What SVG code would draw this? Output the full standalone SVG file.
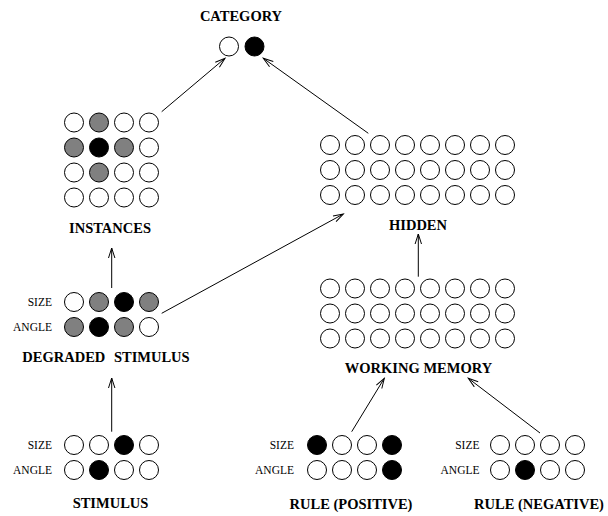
<svg xmlns="http://www.w3.org/2000/svg" width="608" height="516" viewBox="0 0 608 516">
<defs>
<marker id="ah" markerUnits="userSpaceOnUse" markerWidth="14" markerHeight="10" refX="11" refY="4" orient="auto" viewBox="0 0 14 10">
<path d="M1,0.8 L11,4 L1,7.2" fill="none" stroke="#000" stroke-width="1"/>
</marker>
</defs>
<style>
circle{stroke:#000;stroke-width:1;fill:#fff}
.g{fill:#808080}
.b{fill:#000}
.t{font-family:"Liberation Serif","Times New Roman",serif;font-weight:bold;font-size:14.5px;text-anchor:middle;fill:#000}
.s{font-family:"Liberation Serif","Times New Roman",serif;font-size:11.5px;text-anchor:end;fill:#000}
.c{stroke:#000;stroke-width:1;fill:none;marker-end:url(#ah)}
</style>
<rect width="608" height="516" fill="#fff"/>
<g id="connectors">
<line class="c" x1="161.7" y1="111.7" x2="225" y2="58.3"/>
<line class="c" x1="368.3" y1="133.3" x2="263.3" y2="58.3"/>
<line class="c" x1="161.7" y1="313.3" x2="343.3" y2="214"/>
<line class="c" x1="111.7" y1="288" x2="111.7" y2="248"/>
<line class="c" x1="111.7" y1="431.7" x2="111.7" y2="378"/>
<line class="c" x1="418.3" y1="276.7" x2="418.3" y2="234"/>
<line class="c" x1="351.7" y1="431.7" x2="384.3" y2="378.3"/>
<line class="c" x1="540" y1="433" x2="468.3" y2="378.3"/>
</g>
<g id="category">
<text class="t" x="241" y="21">CATEGORY</text>
<circle cx="229" cy="46.5" r="9.5"/>
<circle class="b" cx="254.5" cy="46.5" r="9.5"/>
</g>
<g id="instances">
<circle cx="74" cy="122.5" r="9.5"/><circle class="g" cx="99" cy="122.5" r="9.5"/><circle cx="124" cy="122.5" r="9.5"/><circle cx="149" cy="122.5" r="9.5"/>
<circle class="g" cx="74" cy="147.5" r="9.5"/><circle class="b" cx="99" cy="147.5" r="9.5"/><circle class="g" cx="124" cy="147.5" r="9.5"/><circle cx="149" cy="147.5" r="9.5"/>
<circle cx="74" cy="172.5" r="9.5"/><circle class="g" cx="99" cy="172.5" r="9.5"/><circle cx="124" cy="172.5" r="9.5"/><circle cx="149" cy="172.5" r="9.5"/>
<circle cx="74" cy="197.5" r="9.5"/><circle cx="99" cy="197.5" r="9.5"/><circle cx="124" cy="197.5" r="9.5"/><circle cx="149" cy="197.5" r="9.5"/>
<text class="t" x="110" y="233">INSTANCES</text>
</g>
<g id="hidden">
<circle cx="330" cy="145" r="9.5"/><circle cx="355" cy="145" r="9.5"/><circle cx="380" cy="145" r="9.5"/><circle cx="405" cy="145" r="9.5"/><circle cx="430" cy="145" r="9.5"/><circle cx="455" cy="145" r="9.5"/><circle cx="480" cy="145" r="9.5"/><circle cx="505" cy="145" r="9.5"/>
<circle cx="330" cy="170" r="9.5"/><circle cx="355" cy="170" r="9.5"/><circle cx="380" cy="170" r="9.5"/><circle cx="405" cy="170" r="9.5"/><circle cx="430" cy="170" r="9.5"/><circle cx="455" cy="170" r="9.5"/><circle cx="480" cy="170" r="9.5"/><circle cx="505" cy="170" r="9.5"/>
<circle cx="330" cy="195" r="9.5"/><circle cx="355" cy="195" r="9.5"/><circle cx="380" cy="195" r="9.5"/><circle cx="405" cy="195" r="9.5"/><circle cx="430" cy="195" r="9.5"/><circle cx="455" cy="195" r="9.5"/><circle cx="480" cy="195" r="9.5"/><circle cx="505" cy="195" r="9.5"/>
<text class="t" x="418" y="230">HIDDEN</text>
</g>
<g id="degraded-stimulus">
<text class="s" x="52" y="306">SIZE</text>
<text class="s" x="52" y="331">ANGLE</text>
<circle cx="74" cy="302" r="9.5"/><circle class="g" cx="99" cy="302" r="9.5"/><circle class="b" cx="124" cy="302" r="9.5"/><circle class="g" cx="149" cy="302" r="9.5"/>
<circle class="g" cx="74" cy="327" r="9.5"/><circle class="b" cx="99" cy="327" r="9.5"/><circle class="g" cx="124" cy="327" r="9.5"/><circle cx="149" cy="327" r="9.5"/>
<text class="t" x="106" y="362" word-spacing="5">DEGRADED STIMULUS</text>
</g>
<g id="working-memory">
<circle cx="330" cy="288.5" r="9.5"/><circle cx="355" cy="288.5" r="9.5"/><circle cx="380" cy="288.5" r="9.5"/><circle cx="405" cy="288.5" r="9.5"/><circle cx="430" cy="288.5" r="9.5"/><circle cx="455" cy="288.5" r="9.5"/><circle cx="480" cy="288.5" r="9.5"/><circle cx="505" cy="288.5" r="9.5"/>
<circle cx="330" cy="313.5" r="9.5"/><circle cx="355" cy="313.5" r="9.5"/><circle cx="380" cy="313.5" r="9.5"/><circle cx="405" cy="313.5" r="9.5"/><circle cx="430" cy="313.5" r="9.5"/><circle cx="455" cy="313.5" r="9.5"/><circle cx="480" cy="313.5" r="9.5"/><circle cx="505" cy="313.5" r="9.5"/>
<circle cx="330" cy="338.5" r="9.5"/><circle cx="355" cy="338.5" r="9.5"/><circle cx="380" cy="338.5" r="9.5"/><circle cx="405" cy="338.5" r="9.5"/><circle cx="430" cy="338.5" r="9.5"/><circle cx="455" cy="338.5" r="9.5"/><circle cx="480" cy="338.5" r="9.5"/><circle cx="505" cy="338.5" r="9.5"/>
<text class="t" x="418.5" y="372.5">WORKING MEMORY</text>
</g>
<g id="stimulus">
<text class="s" x="52" y="449">SIZE</text>
<text class="s" x="52" y="474">ANGLE</text>
<circle cx="74" cy="445" r="9.5"/><circle cx="99" cy="445" r="9.5"/><circle class="b" cx="124" cy="445" r="9.5"/><circle cx="149" cy="445" r="9.5"/>
<circle cx="74" cy="470" r="9.5"/><circle class="b" cx="99" cy="470" r="9.5"/><circle cx="124" cy="470" r="9.5"/><circle cx="149" cy="470" r="9.5"/>
<text class="t" x="110.5" y="508">STIMULUS</text>
</g>
<g id="rule-positive">
<text class="s" x="294" y="449">SIZE</text>
<text class="s" x="294" y="474">ANGLE</text>
<circle class="b" cx="317" cy="445" r="9.5"/><circle cx="342" cy="445" r="9.5"/><circle cx="367" cy="445" r="9.5"/><circle class="b" cx="392" cy="445" r="9.5"/>
<circle cx="317" cy="470" r="9.5"/><circle cx="342" cy="470" r="9.5"/><circle cx="367" cy="470" r="9.5"/><circle class="b" cx="392" cy="470" r="9.5"/>
<text class="t" x="351" y="508.5">RULE (POSITIVE)</text>
</g>
<g id="rule-negative">
<text class="s" x="479.5" y="449">SIZE</text>
<text class="s" x="479.5" y="474">ANGLE</text>
<circle cx="500" cy="445" r="9.5"/><circle cx="525" cy="445" r="9.5"/><circle cx="550" cy="445" r="9.5"/><circle cx="575" cy="445" r="9.5"/>
<circle cx="500" cy="470" r="9.5"/><circle class="b" cx="525" cy="470" r="9.5"/><circle cx="550" cy="470" r="9.5"/><circle cx="575" cy="470" r="9.5"/>
<text class="t" x="539" y="508.5">RULE (NEGATIVE)</text>
</g>
</svg>
